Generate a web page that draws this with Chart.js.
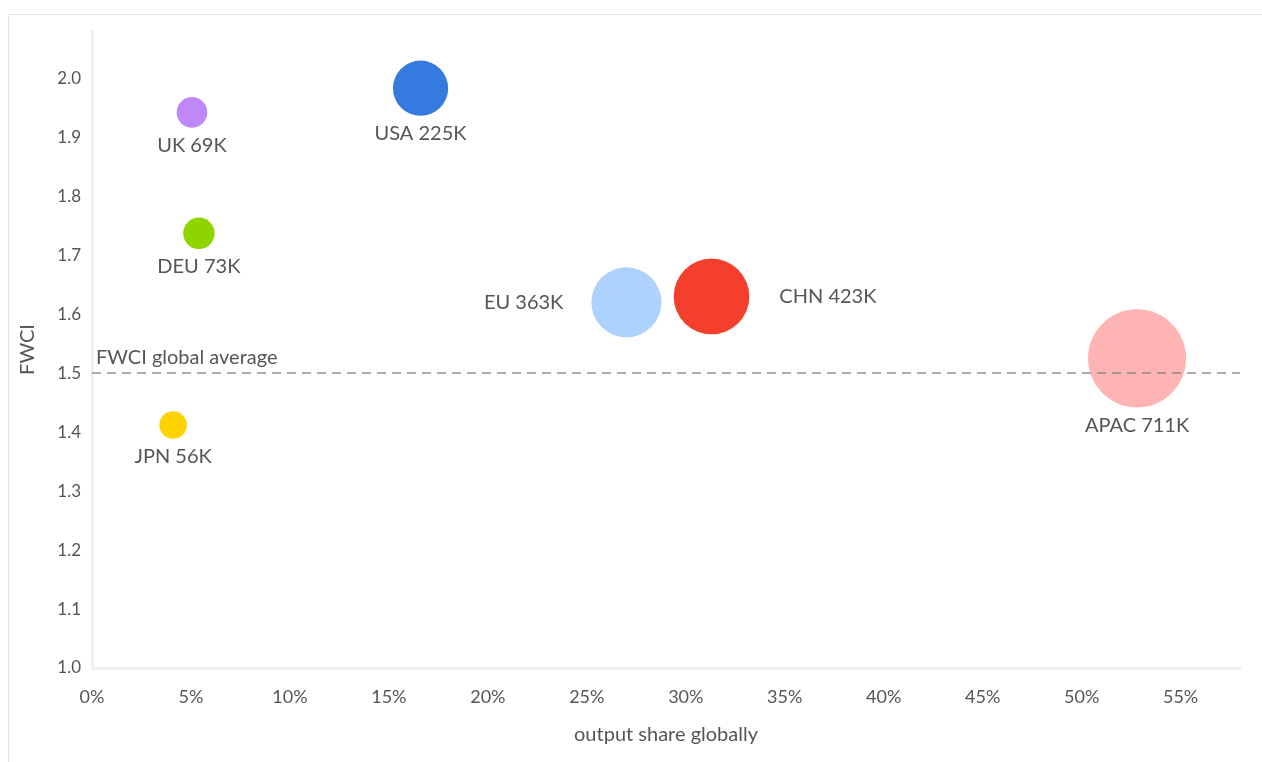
<!DOCTYPE html>
<html>
<head>
<meta charset="utf-8">
<title>FWCI vs output share</title>
<script src="https://cdn.jsdelivr.net/npm/chart.js@4/dist/chart.umd.min.js"></script>
<style>
  html, body { margin: 0; padding: 0; overflow: hidden; background: #fff; }
  .frame { position: absolute; left: 8px; top: 14px; width: 1400px; height: 900px; border: 1px solid #e6e6e6; }
  #bubbles { position: absolute; left: 0; top: 0; }
</style>
</head>
<body>
<div class="frame"></div>
<canvas id="bubbles" width="1262" height="762"></canvas>
<script>
const regions = ['UK', 'USA', 'DEU', 'JPN', 'EU', 'CHN', 'APAC'];
const outputShare = [5.05, 16.6, 5.4, 4.1, 27.0, 31.3, 52.8];   // % of global output
const fwci = [1.942, 1.983, 1.737, 1.412, 1.62, 1.63, 1.525];
const outputK = [69, 225, 73, 56, 363, 423, 711];               // publications, thousands
const colours = ['#bf88f8', '#347adf', '#8ed500', '#ffd300', '#add2fe', '#f43f2c', '#ffb4b4'];
const globalAverage = 1.5;

const ctx = document.getElementById('bubbles');
const textColour = '#555555';
const fontFamily = 'Lato, "Open Sans", sans-serif';

// bubble area follows output volume
const points = regions.map((name, i) => ({
    x: outputShare[i],
    y: fwci[i],
    r: 1.84 * Math.sqrt(outputK[i])
}));

// dashed reference line plus the "name NNK" captions
const annotate = {
    id: 'annotate',
    afterDatasetsDraw(chart) {
        const { ctx, chartArea, scales: { x, y } } = chart;
        const yAvg = y.getPixelForValue(globalAverage);

        ctx.save();
        ctx.strokeStyle = 'rgba(120,120,120,0.6)';
        ctx.lineWidth = 2;
        ctx.setLineDash([9, 6]);
        ctx.beginPath();
        ctx.moveTo(chartArea.left, yAvg);
        ctx.lineTo(chartArea.right, yAvg);
        ctx.stroke();
        ctx.setLineDash([]);

        ctx.fillStyle = textColour;
        ctx.font = '20px ' + fontFamily;
        ctx.textBaseline = 'alphabetic';
        ctx.textAlign = 'left';
        ctx.fillText('FWCI global average', chartArea.left + 4, yAvg - 9);

        const side = { EU: 'left', CHN: 'right' };
        ctx.textBaseline = 'middle';
        chart.getDatasetMeta(0).data.forEach((el, i) => {
            const r = points[i].r;
            const text = regions[i] + ' ' + outputK[i] + 'K';
            const s = side[regions[i]] || 'below';
            if (s === 'left') {
                ctx.textAlign = 'right';
                ctx.fillText(text, el.x - r - 28, el.y);
            } else if (s === 'right') {
                ctx.textAlign = 'left';
                ctx.fillText(text, el.x + r + 30, el.y);
            } else {
                ctx.textAlign = 'center';
                ctx.fillText(text, el.x, el.y + r + 18);
            }
        });
        ctx.restore();
    }
};

new Chart(ctx, {
    type: 'bubble',
    data: {
        datasets: [{
            data: points,
            backgroundColor: colours,
            borderColor: colours,
            borderWidth: 0,
            hoverBorderWidth: 0
        }]
    },
    options: {
        responsive: false,
        animation: false,
        layout: { autoPadding: false, padding: { top: 31, right: 22, left: 0, bottom: 0 } },
        plugins: {
            legend: { display: false },
            tooltip: { enabled: false }
        },
        scales: {
            x: {
                type: 'linear',
                min: 0,
                max: 58,
                afterFit: s => { s.height = 94; },
                grid: { display: false, drawTicks: false },
                border: { display: true, color: '#f0f0f0', width: 3 },
                ticks: {
                    stepSize: 5,
                    includeBounds: false,
                    padding: 18,
                    color: textColour,
                    font: { family: fontFamily, size: 18 },
                    callback: v => v + '%'
                },
                title: {
                    display: true,
                    text: 'output share globally',
                    color: textColour,
                    font: { family: fontFamily, size: 20 },
                    padding: { top: 0, bottom: 15 }
                }
            },
            y: {
                type: 'linear',
                min: 1.0,
                max: 2.08,
                afterFit: s => { s.width = 92; },
                grid: { display: false, drawTicks: false },
                border: { display: true, color: '#f0f0f0', width: 3 },
                ticks: {
                    stepSize: 0.1,
                    includeBounds: false,
                    padding: 11,
                    color: textColour,
                    font: { family: fontFamily, size: 17 },
                    callback: v => Number(v).toFixed(1)
                },
                title: {
                    display: true,
                    text: 'FWCI',
                    color: textColour,
                    font: { family: fontFamily, size: 20 },
                    padding: { top: 16, bottom: 0 }
                }
            }
        }
    },
    plugins: [annotate]
});
</script>
</body>
</html>
